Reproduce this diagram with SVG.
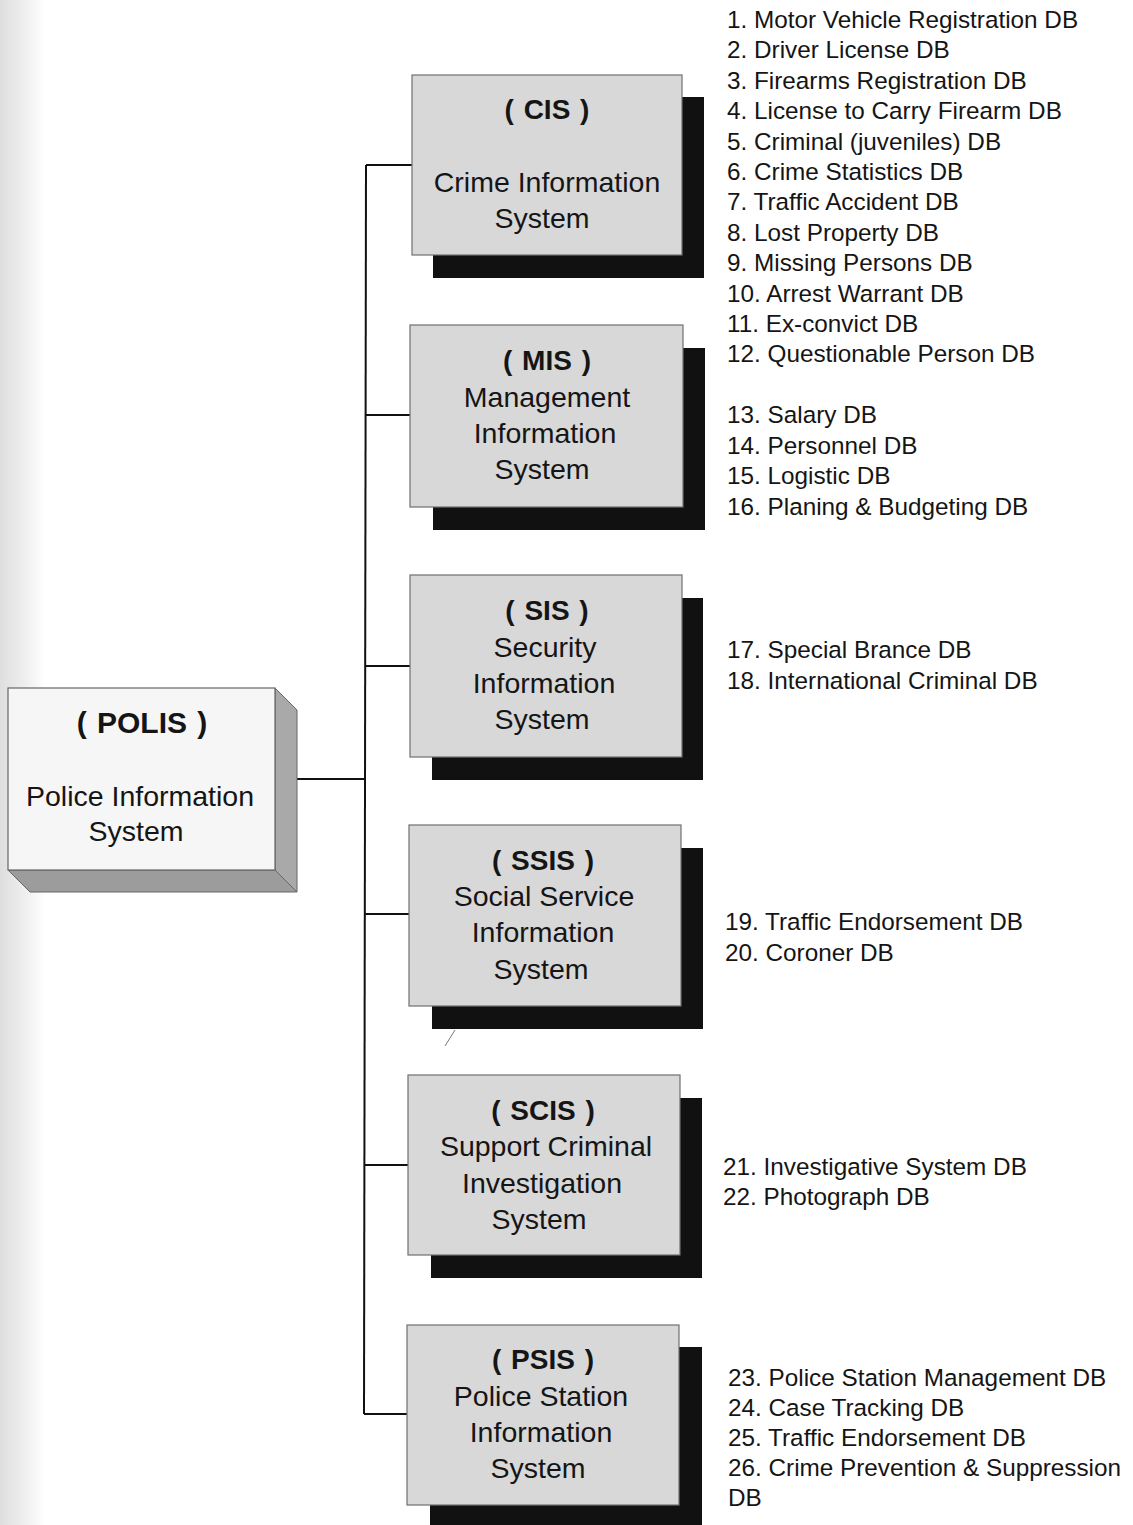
<svg xmlns="http://www.w3.org/2000/svg" width="1133" height="1525" viewBox="0 0 1133 1525">
<defs>
<linearGradient id="edge" x1="0" y1="0" x2="1" y2="0">
<stop offset="0" stop-color="#dedede"/>
<stop offset="0.5" stop-color="#ededed"/>
<stop offset="1" stop-color="#ffffff"/>
</linearGradient>
<style>
.box{fill:#d8d8d8;stroke:#707070;stroke-width:1.2}
.shadow{fill:#111111}
.t{font-family:"Liberation Sans",Arial,sans-serif;font-size:28.5px;fill:#151515;text-anchor:middle}
.tb{font-family:"Liberation Sans",Arial,sans-serif;font-size:28px;font-weight:bold;fill:#151515;text-anchor:middle;word-spacing:2px}
.db{font-family:"Liberation Sans",Arial,sans-serif;font-size:24.3px;fill:#151515}
.conn{stroke:#111;stroke-width:2;fill:none}
</style>
</defs>
<rect width="1133" height="1525" fill="#ffffff"/>
<rect x="0" y="0" width="45" height="1525" fill="url(#edge)"/>

<g id="connectors">
<path class="conn" d="M366 165 L364 1414"/>
<path class="conn" d="M275 779 L365 779"/>
<path class="conn" d="M366 165 L412 165"/>
<path class="conn" d="M366 415 L410 415"/>
<path class="conn" d="M365 666 L410 666"/>
<path class="conn" d="M365 914 L409 914"/>
<path class="conn" d="M364 1165 L408 1165"/>
<path class="conn" d="M364 1414 L407 1414"/>
</g>

<g id="polis">
<polygon points="275,688 297,710 297,892 275,870" fill="#a9a9a9" stroke="#666" stroke-width="1"/>
<polygon points="8,870 275,870 297,892 30,892" fill="#9c9c9c" stroke="#666" stroke-width="1"/>
<rect x="8" y="688" width="267" height="182" fill="#f6f6f6" stroke="#666" stroke-width="1.2"/>
<text class="tb" x="142" y="733" style="font-size:30px">( POLIS )</text>
<text class="t" x="140" y="806">Police Information</text>
<text class="t" x="136" y="841">System</text>
</g>

<g id="cis">
<rect class="shadow" x="433" y="97" width="271" height="181"/>
<rect class="box" x="412" y="75" width="270" height="180"/>
<text class="tb" x="547" y="119">( CIS )</text>
<text class="t" x="547" y="192">Crime Information</text>
<text class="t" x="542" y="228">System</text>
</g>

<g id="mis">
<rect class="shadow" x="433" y="348" width="272" height="182"/>
<rect class="box" x="410" y="325" width="273" height="182"/>
<text class="tb" x="547" y="370">( MIS )</text>
<text class="t" x="547" y="407">Management</text>
<text class="t" x="545" y="443">Information</text>
<text class="t" x="542" y="479">System</text>
</g>

<g id="sis">
<rect class="shadow" x="432" y="598" width="271" height="182"/>
<rect class="box" x="410" y="575" width="272" height="182"/>
<text class="tb" x="547" y="620">( SIS )</text>
<text class="t" x="545" y="657">Security</text>
<text class="t" x="544" y="693">Information</text>
<text class="t" x="542" y="729">System</text>
</g>

<g id="ssis">
<rect class="shadow" x="432" y="848" width="271" height="181"/>
<rect class="box" x="409" y="825" width="272" height="181"/>
<text class="tb" x="543" y="870">( SSIS )</text>
<text class="t" x="544" y="906">Social Service</text>
<text class="t" x="543" y="942">Information</text>
<text class="t" x="541" y="979">System</text>
</g>
<path d="M455 1030 L445 1046" stroke="#777" stroke-width="1" fill="none"/>

<g id="scis">
<rect class="shadow" x="431" y="1098" width="271" height="180"/>
<rect class="box" x="408" y="1075" width="272" height="180"/>
<text class="tb" x="543" y="1120">( SCIS )</text>
<text class="t" x="546" y="1156">Support Criminal</text>
<text class="t" x="542" y="1193">Investigation</text>
<text class="t" x="539" y="1229">System</text>
</g>

<g id="psis">
<rect class="shadow" x="430" y="1347" width="272" height="190"/>
<rect class="box" x="407" y="1325" width="272" height="180"/>
<text class="tb" x="543" y="1369">( PSIS )</text>
<text class="t" x="541" y="1406">Police Station</text>
<text class="t" x="541" y="1442">Information</text>
<text class="t" x="538" y="1478">System</text>
</g>

<g id="db-lists">
<text class="db" x="727" y="28">1. Motor Vehicle Registration DB</text>
<text class="db" x="727" y="58">2. Driver License DB</text>
<text class="db" x="727" y="89">3. Firearms Registration DB</text>
<text class="db" x="727" y="119">4. License to Carry Firearm DB</text>
<text class="db" x="727" y="150">5. Criminal (juveniles) DB</text>
<text class="db" x="727" y="180">6. Crime Statistics DB</text>
<text class="db" x="727" y="210">7. Traffic Accident DB</text>
<text class="db" x="727" y="241">8. Lost Property DB</text>
<text class="db" x="727" y="271">9. Missing Persons DB</text>
<text class="db" x="727" y="302">10. Arrest Warrant DB</text>
<text class="db" x="727" y="332">11. Ex-convict DB</text>
<text class="db" x="727" y="362">12. Questionable Person DB</text>
<text class="db" x="727" y="423">13. Salary DB</text>
<text class="db" x="727" y="454">14. Personnel DB</text>
<text class="db" x="727" y="484">15. Logistic DB</text>
<text class="db" x="727" y="515">16. Planing &amp; Budgeting DB</text>
<text class="db" x="727" y="658">17. Special Brance DB</text>
<text class="db" x="727" y="689">18. International Criminal DB</text>
<text class="db" x="725" y="930">19. Traffic Endorsement DB</text>
<text class="db" x="725" y="961">20. Coroner DB</text>
<text class="db" x="723" y="1175">21. Investigative System DB</text>
<text class="db" x="723" y="1205">22. Photograph DB</text>
<text class="db" x="728" y="1386">23. Police Station Management DB</text>
<text class="db" x="728" y="1416">24. Case Tracking DB</text>
<text class="db" x="728" y="1446">25. Traffic Endorsement DB</text>
<text class="db" x="728" y="1476">26. Crime Prevention &amp; Suppression</text>
<text class="db" x="728" y="1506">DB</text>
</g>
</svg>
